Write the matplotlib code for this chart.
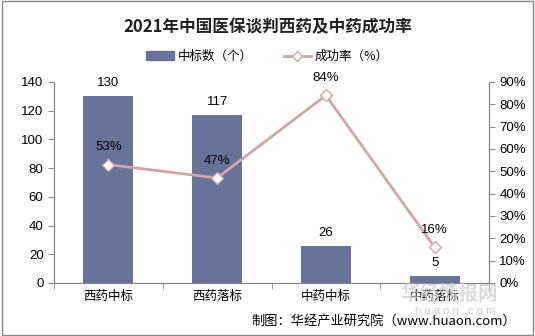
import matplotlib.pyplot as plt
import numpy as np
from matplotlib.lines import Line2D
from matplotlib.patches import Patch

plt.rcParams['font.family'] = ['Liberation Sans', 'Noto Sans CJK SC', 'DejaVu Sans']

categories = ["西药中标", "西药落标", "中药中标", "中药落标"]
counts = [130, 117, 26, 5]
rates = [53, 47, 84, 16]

bar_color = "#68739A"
line_color = "#D4A5A5"
axis_color = "#888888"

fig = plt.figure(figsize=(5.35, 3.36), dpi=100)
ax = fig.add_axes([0.101, 0.158, 0.813, 0.598])
x = np.arange(len(categories))
ax.bar(x, counts, width=0.46, color=bar_color, zorder=2)
ax.set_xlim(-0.5, len(categories) - 0.5)
ax.set_ylim(0, 140)
ax.set_yticks(range(0, 141, 20))
ax.set_xticks(x)
ax.set_xticklabels(categories, fontsize=9, family=['Noto Sans CJK SC', 'DejaVu Sans'])
ax.set_xticks(np.arange(-0.5, len(categories), 1), minor=True)
ax.tick_params(axis='x', which='major', length=0, pad=5)
ax.tick_params(axis='x', which='minor', length=4, color=axis_color)
ax.tick_params(axis='y', length=4, color=axis_color, labelsize=9.5)
ax.spines["top"].set_visible(False)
for s in ["left", "bottom", "right"]:
    ax.spines[s].set_color(axis_color)
for xi, v in zip(x, counts):
    ax.annotate(str(v), (xi, v), xytext=(0, 5), textcoords="offset points",
                ha="center", va="bottom", fontsize=9.5)

ax2 = ax.twinx()
ax2.plot(x, rates, color=line_color, lw=2, marker="D", ms=6,
         markerfacecolor="white", markeredgecolor=line_color, zorder=3)
ax2.set_ylim(0, 90)
ax2.set_yticks(range(0, 91, 10))
ax2.set_yticklabels([f"{v}%" for v in range(0, 91, 10)])
ax2.tick_params(axis='y', length=4, color=axis_color, labelsize=9.5)
ax2.spines["top"].set_visible(False)
for s in ["left", "bottom", "right"]:
    ax2.spines[s].set_color(axis_color)
for xi, v in zip(x, rates):
    ax2.annotate(f"{v}%", (xi, v), xytext=(0, 8), textcoords="offset points",
                 ha="center", va="bottom", fontsize=9.5)

fig.text(0.5, 0.918, "2021年中国医保谈判西药及中药成功率", ha="center", va="center",
         fontsize=12, fontweight="bold", color="#222222",
         family=['Noto Sans CJK SC', 'DejaVu Sans'])

# legend
handles = [Patch(color=bar_color, label="中标数（个）"),
           Line2D([], [], color=line_color, lw=2, marker="D", ms=5,
                  markerfacecolor="white", label="成功率（%）")]
fig.legend(handles=handles, loc="center", bbox_to_anchor=(0.5, 0.832), ncol=2,
           frameon=False, fontsize=9, handlelength=2.2, columnspacing=2.5,
           handletextpad=0.3, prop={'family': ['Noto Sans CJK SC', 'DejaVu Sans'], 'size': 9})

# watermark
fig.text(0.84, 0.125, "华经情报网", fontsize=14, color="#cccccc", alpha=0.7,
         fontweight="bold", ha="center", va="center", zorder=0,
         family=['Noto Sans CJK SC', 'DejaVu Sans'])
fig.text(0.85, 0.075, "h u a o n . c o m", fontsize=8, color="#cccccc",
         ha="center", va="center", zorder=0)

fig.text(0.965, 0.045, "制图：华经产业研究院（www.huaon.com）", ha="right", va="center",
         fontsize=9.5, family=['Noto Sans CJK SC', 'DejaVu Sans'])

border = plt.Rectangle((0.003, 0.003), 0.994, 0.994, transform=fig.transFigure,
                       fill=False, edgecolor="#888888", lw=1)
fig.patches.append(border)

fig.savefig("out.png", dpi=100, facecolor="white")
